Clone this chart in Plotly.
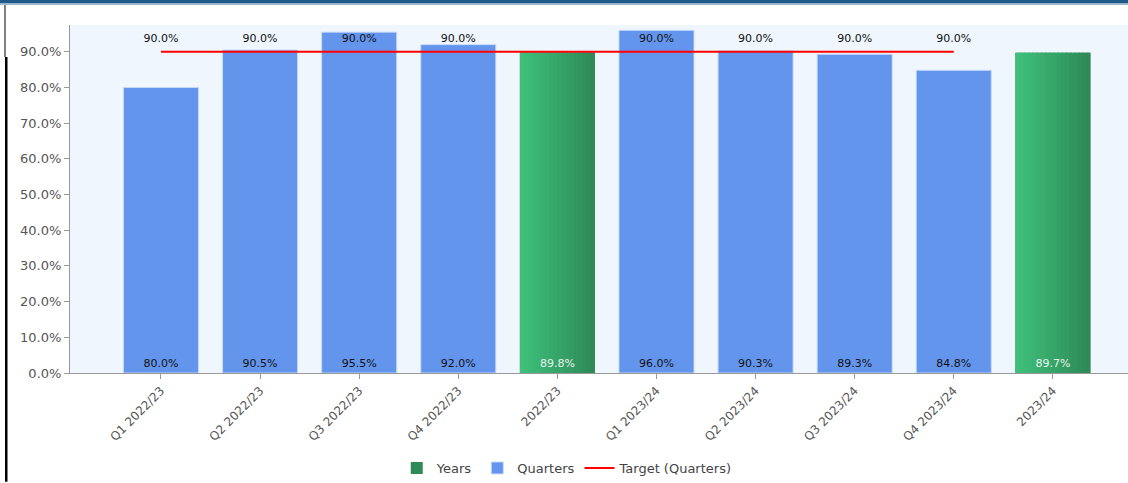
import plotly.graph_objects as go

categories = ["Q1 2022/23", "Q2 2022/23", "Q3 2022/23", "Q4 2022/23", "2022/23",
              "Q1 2023/24", "Q2 2023/24", "Q3 2023/24", "Q4 2023/24", "2023/24"]
quarter_cats = ["Q1 2022/23", "Q2 2022/23", "Q3 2022/23", "Q4 2022/23",
                "Q1 2023/24", "Q2 2023/24", "Q3 2023/24", "Q4 2023/24"]
quarter_vals = [80.0, 90.5, 95.5, 92.0, 96.0, 90.3, 89.3, 84.8]
year_cats = ["2022/23", "2023/24"]
year_vals = [89.8, 89.7]
target_vals = [90.0, 90.0, 90.0, 90.0, 90.0, 90.0, 90.0, 90.0]
y_ticks = [0, 10, 20, 30, 40, 50, 60, 70, 80, 90]

BAR_W = 0.757
N_SLICES = 18
c0 = (0x3F, 0xBF, 0x7A)
c1 = (0x2E, 0x8A, 0x57)

fig = go.Figure()

# Years (solid, carries the legend entry)
fig.add_trace(go.Bar(
    x=year_cats, y=year_vals, name="Years", width=BAR_W,
    marker=dict(color="#2E8B57", line=dict(width=0)),
    hoverinfo="skip",
))

# Gradient slices over the year bars
gx, gy, gw, go_, gc = [], [], [], [], []
sw = BAR_W / N_SLICES
for cat, v in zip(year_cats, year_vals):
    for i in range(N_SLICES):
        t = i / (N_SLICES - 1)
        col = tuple(round(a + (b - a) * t) for a, b in zip(c0, c1))
        gx.append(cat)
        gy.append(v)
        w = sw * 1.6 if i < N_SLICES - 1 else sw
        gw.append(min(w, BAR_W / 2 - (-BAR_W / 2 + i * sw)))
        go_.append(-BAR_W / 2 + i * sw)
        gc.append("rgb(%d,%d,%d)" % col)
fig.add_trace(go.Bar(
    x=gx, y=gy, width=gw, offset=go_, showlegend=False,
    marker=dict(color=gc, line=dict(width=0)), hoverinfo="skip",
))

# Quarters
fig.add_trace(go.Bar(
    x=quarter_cats, y=quarter_vals, name="Quarters", width=BAR_W,
    marker=dict(color="#6495ED", line=dict(color="rgba(200,220,250,0.9)", width=1)),
    text=[f"{v:.1f}%" for v in quarter_vals],
    textposition="inside", insidetextanchor="start", constraintext="none",
    textfont=dict(family="DejaVu Sans", size=11, color="#111111"),
    textangle=0,
))

# Target line
fig.add_trace(go.Scatter(
    x=quarter_cats, y=target_vals, name="Target (Quarters)",
    mode="lines",
    line=dict(color="#FF0000", width=2),
))

# Target labels (invisible markers push text above the line)
fig.add_trace(go.Scatter(
    x=quarter_cats, y=target_vals, showlegend=False,
    mode="markers+text",
    marker=dict(size=9, color="rgba(0,0,0,0)"),
    text=[f"{v:.1f}%" for v in target_vals],
    textposition="top center",
    textfont=dict(family="DejaVu Sans", size=11, color="#111111"),
    hoverinfo="skip",
))

# Year labels (transparent bars carrying text)
fig.add_trace(go.Bar(
    x=year_cats, y=year_vals, width=BAR_W, showlegend=False,
    marker=dict(color="rgba(0,0,0,0)", line=dict(width=0)),
    text=[f"{v:.1f}%" for v in year_vals],
    textposition="inside", insidetextanchor="start", constraintext="none",
    textfont=dict(family="DejaVu Sans", size=11, color="#E8F5EC"),
    textangle=0, hoverinfo="skip",
))

fig.update_layout(
    width=1128, height=483,
    margin=dict(l=70, r=0, t=25, b=109),
    barmode="overlay",
    paper_bgcolor="white",
    plot_bgcolor="#EFF6FE",
    font=dict(family="DejaVu Sans", color="#555555"),
    showlegend=True,
    legend=dict(orientation="h", x=0.47, xanchor="center", y=-0.272, yanchor="middle",
                font=dict(size=13, color="#444444"), traceorder="normal",
                itemwidth=30, tracegroupgap=0),
    xaxis=dict(
        type="category", categoryorder="array", categoryarray=categories,
        range=[-0.918, 9.758], tickangle=-45,
        tickfont=dict(size=12, color="#555555"),
        showline=True, linecolor="#999999", linewidth=1,
        ticks="outside", ticklen=5, tickcolor="#999999",
        showgrid=False, zeroline=False,
    ),
    yaxis=dict(
        range=[0, 97.5], tickvals=y_ticks,
        ticktext=[f"{v:.1f}%" for v in y_ticks],
        tickfont=dict(size=13, color="#555555"),
        showline=True, linecolor="#999999", linewidth=1,
        ticks="outside", ticklen=5, tickcolor="#999999",
        showgrid=False, zeroline=False,
    ),
)

# Page frame decorations (pixel positions converted to paper coords)
PW, PH = 1128 - 70, 483 - 25 - 109
def px(xp):
    return (xp - 70) / PW
def py(yp):
    return (483 - 109 - yp) / PH

fig.add_shape(type="rect", xref="paper", yref="paper",
              x0=px(0), x1=px(1128), y0=py(0), y1=py(3.5),
              fillcolor="#1D5A8A", line=dict(width=0), layer="above")
fig.add_shape(type="rect", xref="paper", yref="paper",
              x0=px(0), x1=px(1128), y0=py(3.5), y1=py(5),
              fillcolor="#9FB8CC", line=dict(width=0), layer="above")
fig.add_shape(type="rect", xref="paper", yref="paper",
              x0=px(4), x1=px(6), y0=py(5), y1=py(57),
              fillcolor="#808080", line=dict(width=0), layer="above")
fig.add_shape(type="rect", xref="paper", yref="paper",
              x0=px(5), x1=px(7.5), y0=py(57), y1=py(483),
              fillcolor="#000000", line=dict(width=0), layer="above")

fig.write_html("out.html")
